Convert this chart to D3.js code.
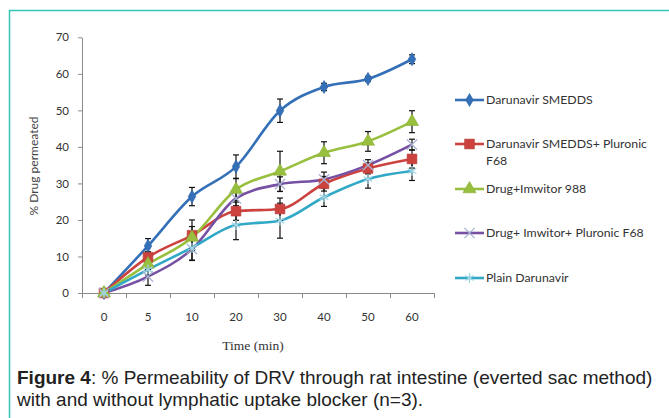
<!DOCTYPE html>
<html>
<head>
<meta charset="utf-8">
<script src="https://cdn.jsdelivr.net/npm/d3@7"></script>
<style>
  html, body { margin: 0; padding: 0; background: #fff; }
  svg { display: block; }
</style>
</head>
<body>
<div id="chart"></div>
<script>
// time points (categories on the x axis)
const timePoints = ["0", "5", "10", "20", "30", "40", "50", "60"];
const yTicks = [0, 10, 20, 30, 40, 50, 60, 70];

const seriesNames = [
  "Darunavir SMEDDS",
  "Darunavir SMEDDS+ Pluronic F68",
  "Drug+Imwitor 988",
  "Drug+ Imwitor+ Pluronic F68",
  "Plain Darunavir"
];

// % drug permeated
const smeddsValues   = [0, 12.9, 26.4, 34.6, 49.9, 56.4, 58.6, 64.0];
const pluronicValues = [0, 9.8, 15.8, 22.4, 23.0, 29.9, 34.1, 36.7];
const imwitorValues  = [0, 7.9, 15.2, 28.3, 33.3, 38.4, 41.5, 46.9];
const imwPluValues   = [0, 4.5, 12.0, 25.9, 29.8, 31.1, 35.0, 40.6];
const plainValues    = [0, 6.4, 12.4, 18.6, 19.8, 26.2, 31.2, 33.4];

// error bar half-lengths (SD)
const smeddsErr   = [0, 2.0, 2.5, 3.2, 3.2, 1.0, 0.7, 1.2];
const pluronicErr = [0, 1.5, 4.2, 2.5, 3.0, 2.0, 1.5, 2.5];
const imwitorErr  = [0, 1.5, 3.0, 3.0, 5.5, 3.0, 2.7, 3.0];
const imwPluErr   = [0, 2.4, 3.0, 2.0, 2.0, 2.0, 1.5, 1.5];
const plainErr    = [0, 1.5, 3.5, 4.0, 4.8, 2.5, 2.5, 2.6];

const series = [
  {name: seriesNames[0], values: smeddsValues,   err: smeddsErr,   color: "#3470b8", marker: "diamond"},
  {name: seriesNames[1], values: pluronicValues, err: pluronicErr, color: "#cc423e", marker: "square"},
  {name: seriesNames[2], values: imwitorValues,  err: imwitorErr,  color: "#98bf3e", marker: "triangle"},
  {name: seriesNames[3], values: imwPluValues,   err: imwPluErr,   color: "#7650a2", marker: "times"},
  {name: seriesNames[4], values: plainValues,    err: plainErr,    color: "#30a8c6", marker: "asterisk"}
];

const W = 669, H = 418;
const plot = {left: 82, right: 434, top: 37.3, bottom: 293};
const tickFont = "Lato, 'Open Sans', sans-serif";

const svg = d3.select("#chart").append("svg")
  .attr("width", W)
  .attr("height", H);

// teal frame
svg.append("path")
  .attr("d", `M9.5,${H} L9.5,10.5 L${W},10.5`)
  .attr("fill", "none")
  .attr("stroke", "#35c4b2")
  .attr("stroke-width", 1.5);

const x = d3.scaleBand()
  .domain(timePoints)
  .range([plot.left, plot.right]);

const y = d3.scaleLinear()
  .domain([0, 70])
  .range([plot.bottom, plot.top]);

const cx = (i) => x(timePoints[i]) + x.bandwidth() / 2;

// y axis
const yAxis = svg.append("g")
  .attr("transform", `translate(${plot.left},0)`)
  .call(d3.axisLeft(y).tickValues(yTicks).tickSize(4).tickSizeOuter(0).tickPadding(9));
yAxis.select(".domain").attr("stroke", "#8a8a8a");
yAxis.selectAll(".tick line").attr("stroke", "#8a8a8a");
yAxis.selectAll(".tick text")
  .attr("fill", "#333")
  .style("font-family", tickFont)
  .style("font-size", "11.5px");

// x axis: ticks on band boundaries
const xAxisG = svg.append("g")
  .attr("transform", `translate(0,${plot.bottom})`);
xAxisG.append("line")
  .attr("x1", plot.left).attr("x2", plot.right)
  .attr("y1", 0.5).attr("y2", 0.5)
  .attr("stroke", "#8a8a8a");
xAxisG.selectAll(".xtick")
  .data(timePoints.concat(["end"]))
  .enter().append("line")
  .attr("class", "xtick")
  .attr("x1", (d, i) => Math.round(plot.left + i * x.bandwidth()) + 0.5)
  .attr("x2", (d, i) => Math.round(plot.left + i * x.bandwidth()) + 0.5)
  .attr("y1", 0).attr("y2", 5)
  .attr("stroke", "#8a8a8a");
xAxisG.selectAll(".xlabel")
  .data(timePoints)
  .enter().append("text")
  .attr("class", "xlabel")
  .attr("x", (d, i) => cx(i))
  .attr("y", 28)
  .attr("text-anchor", "middle")
  .attr("fill", "#333")
  .style("font-family", tickFont)
  .style("font-size", "11.5px")
  .text(d => d);

// axis titles
svg.append("text")
  .attr("x", 253)
  .attr("y", 350)
  .attr("text-anchor", "middle")
  .attr("fill", "#333")
  .style("font-family", "'Liberation Serif', serif")
  .style("font-size", "13.5px")
  .text("Time (min)");

svg.append("text")
  .attr("transform", "translate(38,166) rotate(-90)")
  .attr("text-anchor", "middle")
  .attr("fill", "#444")
  .style("font-family", tickFont)
  .style("font-size", "12px")
  .text("% Drug permeated");

// marker shapes
const symbolFor = {
  diamond: d3.symbol().type(d3.symbolDiamond).size(50),
  square: d3.symbol().type(d3.symbolSquare).size(95),
  triangle: d3.symbol().type(d3.symbolTriangle).size(75),
  times: d3.symbol().type(d3.symbolTimes).size(70),
  asterisk: d3.symbol().type(d3.symbolAsterisk).size(70)
};
const strokedMarker = {times: "#a9b3d3", asterisk: "#9fd6e6"};

function drawMarker(g, s, px, py) {
  const m = g.append("path")
    .attr("transform", `translate(${px},${py})`)
    .attr("d", symbolFor[s.marker]());
  if (strokedMarker[s.marker]) {
    m.attr("fill", "none").attr("stroke", strokedMarker[s.marker]).attr("stroke-width", 1.3);
  } else {
    m.attr("fill", s.color).attr("stroke", d3.color(s.color).darker(0.3)).attr("stroke-width", 0.6);
  }
}

const line = d3.line()
  .x((d, i) => cx(i))
  .y(d => y(d))
  .curve(d3.curveMonotoneX);

const plotG = svg.append("g");

// lines
series.forEach(s => {
  plotG.append("path")
    .datum(s.values)
    .attr("d", line)
    .attr("fill", "none")
    .attr("stroke", s.color)
    .attr("stroke-width", 2.6);
});

// error bars
series.forEach(s => {
  s.values.forEach((v, i) => {
    if (!s.err[i]) return;
    const px = cx(i);
    const g = plotG.append("g").attr("stroke", "#111").attr("stroke-width", 1.2);
    g.append("line").attr("x1", px).attr("x2", px)
      .attr("y1", y(v - s.err[i])).attr("y2", y(v + s.err[i]));
    [v - s.err[i], v + s.err[i]].forEach(e => {
      g.append("line").attr("x1", px - 3).attr("x2", px + 3)
        .attr("y1", y(e)).attr("y2", y(e));
    });
  });
});

// markers
series.forEach(s => {
  s.values.forEach((v, i) => drawMarker(plotG, s, cx(i), y(v)));
});

// legend
const legendRows = [
  {lines: ["Darunavir SMEDDS"], y: 100},
  {lines: ["Darunavir SMEDDS+ Pluronic", "F68"], y: 144},
  {lines: ["Drug+Imwitor 988"], y: 189},
  {lines: ["Drug+ Imwitor+ Pluronic F68"], y: 233},
  {lines: ["Plain Darunavir"], y: 278}
];
const legend = svg.append("g");
series.forEach((s, i) => {
  const row = legendRows[i];
  legend.append("line")
    .attr("x1", 455).attr("x2", 484)
    .attr("y1", row.y).attr("y2", row.y)
    .attr("stroke", s.color)
    .attr("stroke-width", 2.6);
  drawMarker(legend, s, 469.5, row.y);
  row.lines.forEach((t, k) => {
    legend.append("text")
      .attr("x", 486)
      .attr("y", row.y + 4 + k * 17)
      .attr("fill", "#333")
      .style("font-family", tickFont)
      .style("font-size", "12.3px")
      .text(t);
  });
});

// caption
const caption = svg.append("g")
  .style("font-family", "'Liberation Sans', Arial, sans-serif")
  .style("font-size", "19px")
  .attr("fill", "#222");
const cap1 = caption.append("text").attr("x", 17).attr("y", 384);
cap1.append("tspan").style("font-weight", "bold").text("Figure 4");
cap1.append("tspan").text(": % Permeability of DRV through rat intestine (everted sac method)");
caption.append("text").attr("x", 17).attr("y", 406)
  .text("with and without lymphatic uptake blocker (n=3).");
</script>
</body>
</html>
